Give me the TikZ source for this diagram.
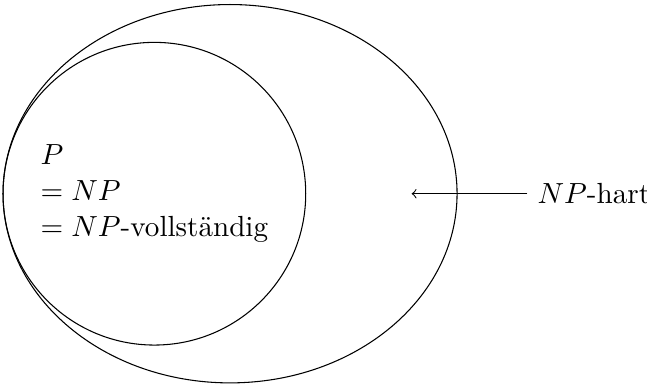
\documentclass[tikz,border=0pt,11pt]{standalone}
\usepackage{amsmath}
\usepackage{tikz}
\usetikzlibrary{arrows,positioning}

\begin{document}
\begin{tikzpicture}
			\useasboundingbox (-3.04,-2.56) rectangle (5.51,2.56);
			\draw (0,0) ellipse (3 and 2.5);
			\draw (-1,0) circle (2);
			\node[align=left] (klasse) at (-1,0) {$P$\\$= NP$\\$= NP$-vollständig};
			\coordinate (ziel) at (2.4,0);
			\node[right] (hart) at (3.93,0) {$NP$-hart};
			\draw[->] (hart) -- (ziel);
		\end{tikzpicture}
\end{document}
